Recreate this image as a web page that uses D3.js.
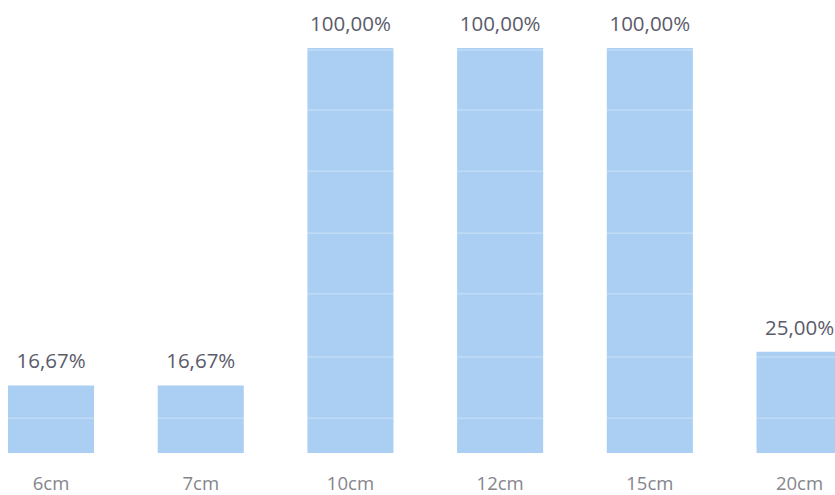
<!DOCTYPE html>
<html>
<head>
<meta charset="utf-8">
<script src="https://cdn.jsdelivr.net/npm/d3@7"></script>
<style>
  html, body { margin: 0; padding: 0; background: #ffffff; overflow: hidden; }
  svg { display: block; }
</style>
</head>
<body>
<svg id="chart" width="835" height="495"></svg>
<script>
// ---- data ----
const categories = ["6cm", "7cm", "10cm", "12cm", "15cm", "20cm"];
const values = [16.67, 16.67, 100, 100, 100, 25];
const valueLabels = ["16,67%", "16,67%", "100,00%", "100,00%", "100,00%", "25,00%"];
// faint horizontal lines visible across the bars (percent of axis)
const gridValues = [8.6, 23.7, 39.3, 54.3, 69.6, 84.7, 99.5];

// ---- layout ----
const W = 835, H = 495;
const baseY = 453, topY = 48;
const step = 149.7;
const x0 = 8 - 0.2125 * step;

const svg = d3.select("#chart");

const x = d3.scaleBand()
  .domain(categories)
  .range([x0, x0 + categories.length * step])
  .paddingInner(0.425)
  .paddingOuter(0.2125);

const y = d3.scaleLinear().domain([0, 100]).range([baseY, topY]);

const data = categories.map((c, i) => ({ cat: c, v: values[i], label: valueLabels[i] }));

// bars
svg.append("g").selectAll("rect")
  .data(data)
  .join("rect")
  .attr("x", d => x(d.cat))
  .attr("y", d => y(d.v))
  .attr("width", x.bandwidth())
  .attr("height", d => y(0) - y(d.v))
  .attr("fill", "#abcff3");

// faint lines across bars
const lines = svg.append("g");
data.forEach(d => {
  gridValues.filter(g => g < d.v).forEach(g => {
    lines.append("line")
      .attr("x1", x(d.cat))
      .attr("x2", x(d.cat) + x.bandwidth())
      .attr("y1", y(g))
      .attr("y2", y(g))
      .attr("stroke", "#ffffff")
      .attr("stroke-opacity", 0.4)
      .attr("stroke-width", 1);
  });
});

// value labels
svg.append("g").selectAll("text")
  .data(data)
  .join("text")
  .attr("x", d => x(d.cat) + x.bandwidth() / 2)
  .attr("y", d => y(d.v) - 17)
  .attr("text-anchor", "middle")
  .attr("font-family", "'Open Sans', 'Noto Sans', sans-serif")
  .attr("font-size", 20.5)
  .attr("fill", "#5b5b6b")
  .text(d => d.label);

// category axis labels
const xAxis = d3.axisBottom(x).tickSize(0).tickPadding(0);
const ax = svg.append("g")
  .attr("transform", `translate(0, ${baseY})`)
  .call(xAxis);
ax.select(".domain").remove();
ax.selectAll("text")
  .attr("dy", null)
  .attr("y", 37)
  .attr("font-family", "'Open Sans', 'Noto Sans', sans-serif")
  .attr("font-size", 18.5)
  .attr("fill", "#85858c");
</script>
</body>
</html>
